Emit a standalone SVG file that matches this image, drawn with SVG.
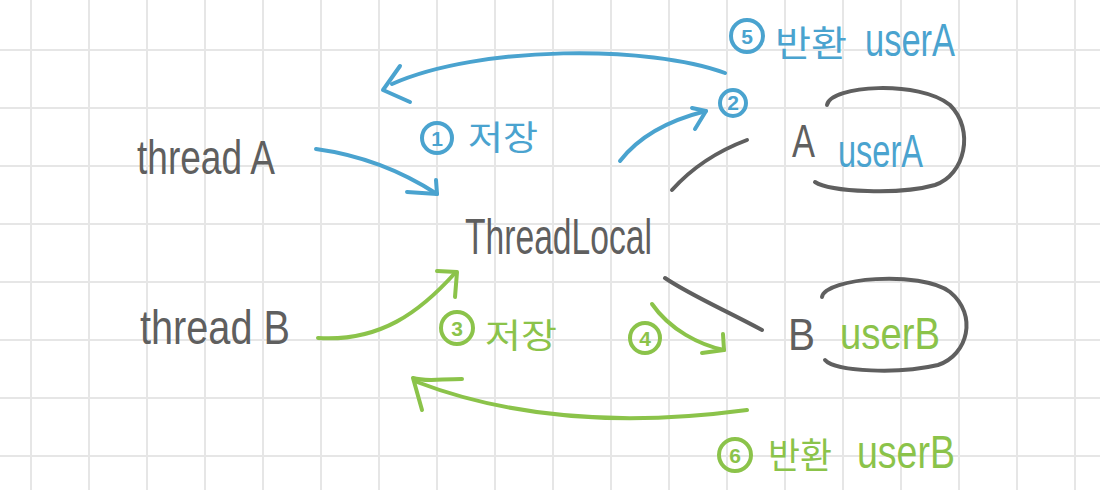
<svg xmlns="http://www.w3.org/2000/svg" width="1100" height="490" viewBox="0 0 1100 490">
<style>
.grid{stroke:#e6e6e6;stroke-width:2;fill:none}
.ln{fill:none;stroke-width:4;stroke-linecap:round;stroke-linejoin:round}
.blue{stroke:#4aa3cf}
.green{stroke:#8bc34a}
.gray{stroke:#5f5f5f}
.t{font-family:"Liberation Sans","Noto Sans CJK KR",sans-serif;fill:#5f5f5f}
.k{font-family:"Noto Sans CJK KR","Liberation Sans",sans-serif}
.fb{fill:#4aa3cf}
.fg{fill:#8bc34a}
.num{font-family:"Liberation Sans",sans-serif;font-size:21px;font-weight:bold;text-anchor:middle}
.circ{fill:none;stroke-width:4}
</style>
<rect width="1100" height="490" fill="#ffffff"/>
<path class="grid" d="M31,0V490M89,0V490M147,0V490M205,0V490M263,0V490M321,0V490M379,0V490M437,0V490M495,0V490M553,0V490M611,0V490M669,0V490M727,0V490M785,0V490M843,0V490M901,0V490M959,0V490M1017,0V490M1075,0V490M0,50H1100M0,108H1100M0,166H1100M0,224H1100M0,282H1100M0,340H1100M0,398H1100M0,456H1100"/>

<g id="threadA"><text class="t" x="137" y="174" font-size="48" textLength="138" lengthAdjust="spacingAndGlyphs">thread A</text></g>
<g id="threadB"><text class="t" x="140" y="344" font-size="48" textLength="150" lengthAdjust="spacingAndGlyphs">thread B</text></g>
<g id="threadLocal"><text class="t" x="465" y="254" font-size="50" textLength="187" lengthAdjust="spacingAndGlyphs">ThreadLocal</text></g>

<g id="nodeA">
<text class="t" x="792" y="157" font-size="46" textLength="23" lengthAdjust="spacingAndGlyphs">A</text>
<text class="t fb" x="838" y="167" font-size="46" textLength="85" lengthAdjust="spacingAndGlyphs">userA</text>
<path class="ln gray" d="M827,105 C830,85 920,80 950,105 C975,130 965,175 935,185 C900,195 830,192 815,182"/>
</g>
<g id="nodeB">
<text class="t" x="788" y="350" font-size="44" textLength="27" lengthAdjust="spacingAndGlyphs">B</text>
<text class="t fg" x="840" y="349" font-size="44" textLength="100" lengthAdjust="spacingAndGlyphs">userB</text>
<path class="ln gray" d="M822,297 C825,278 920,270 950,292 C978,315 968,355 938,365 C900,374 835,372 825,360"/>
</g>

<g id="label1">
<circle class="circ blue" cx="437" cy="138" r="15"/><text class="num fb" x="437" y="146">1</text>
<text class="k fb" x="468" y="150" font-size="34" textLength="70" lengthAdjust="spacingAndGlyphs">저장</text>
</g>
<g id="label2"><circle class="circ blue" cx="733" cy="103" r="13"/><text class="num fb" x="733" y="110" font-size="18">2</text></g>
<g id="label3">
<circle class="circ green" cx="457" cy="328" r="16"/><text class="num fg" x="457" y="336">3</text>
<text class="k fg" x="485" y="348" font-size="34" textLength="72" lengthAdjust="spacingAndGlyphs">저장</text>
</g>
<g id="label4"><circle class="circ green" cx="645" cy="338" r="15"/><text class="num fg" x="645" y="346">4</text></g>
<g id="label5">
<circle class="circ blue" cx="747" cy="36" r="16"/><text class="num fb" x="747" y="44">5</text>
<text class="k fb" x="775" y="57" font-size="36" textLength="72" lengthAdjust="spacingAndGlyphs">반환</text>
<text class="t fb" x="865" y="56" font-size="46" textLength="90" lengthAdjust="spacingAndGlyphs">userA</text>
</g>
<g id="label6">
<circle class="circ green" cx="735" cy="455" r="16"/><text class="num fg" x="735" y="463">6</text>
<text class="k fg" x="768" y="469" font-size="36" textLength="64" lengthAdjust="spacingAndGlyphs">반환</text>
<text class="t fg" x="857" y="468" font-size="46" textLength="98" lengthAdjust="spacingAndGlyphs">userB</text>
</g>

<g id="connectors">
<path class="ln blue" d="M316,149 C360,155 400,170 437,194"/>
<path class="ln blue" d="M407,192 L437,194 L436,180"/>
<path class="ln blue" d="M620,161 C640,135 670,120 706,111"/>
<path class="ln blue" d="M692,108 L706,111 L695,129"/>
<path class="ln blue" d="M725,73 C650,45 480,45 392,84"/>
<path class="ln blue" d="M400,66 L383,90 L410,102"/>
<path class="ln gray" d="M672,190 C690,170 715,152 747,140"/>
<path class="ln gray" d="M665,278 C690,295 725,310 762,330"/>
<path class="ln green" d="M318,338 C380,342 420,312 455,273"/>
<path class="ln green" d="M437,271 L457,272 L455,297"/>
<path class="ln green" d="M652,304 C670,330 700,345 724,350"/>
<path class="ln green" d="M723,334 L724,350 L702,353"/>
<path class="ln green" d="M747,410 C650,423 530,425 417,382"/>
<path class="ln green" d="M462,379 C440,379 425,382 413,378 L422,410"/>
</g>
</svg>
